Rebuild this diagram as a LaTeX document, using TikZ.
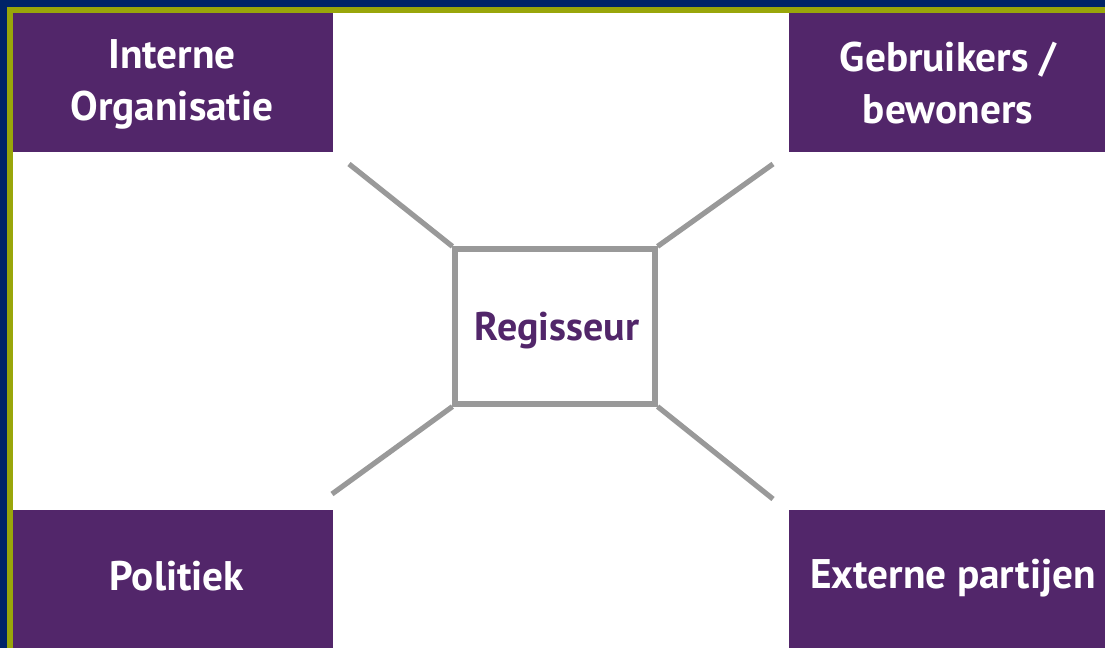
\documentclass[tikz,border=0pt]{standalone}
\usepackage{fontspec}
\setsansfont{PT Sans}
\usetikzlibrary{positioning}

\definecolor{paars}{RGB}{82,38,106}
\definecolor{navy}{RGB}{0,36,104}
\definecolor{limoen}{RGB}{153,166,10}
\definecolor{grijs}{RGB}{153,153,153}

\begin{document}
\begin{tikzpicture}[x=0.75pt, y=-0.75pt]

	\tikzstyle{blok}=[fill=paars, draw=none, inner sep=0, anchor=north west];
	\tikzstyle{node1}=[text=white, font=\sffamily\bfseries\fontsize{31}{39}\selectfont, align=center];
	\tikzstyle{node2}=[text=paars, font=\sffamily\bfseries\fontsize{30}{34}\selectfont];
	\tikzstyle{lijn}=[draw=grijs, line width=3.9pt];

	\useasboundingbox (0,0) rectangle (1105,648);

	% rand
	\fill [navy] (0,0) rectangle (1105,648);
	\fill [limoen] (7,7) rectangle (1105,648);
	\fill [white] (13,13) rectangle (1105,648);

	\node [blok, minimum width=240pt, minimum height=104.25pt] (intern) at (13,13) {};
	\node [blok, minimum width=237pt, minimum height=104.25pt] (gebruikers) at (789,13) {};
	\node [blok, minimum width=240pt, minimum height=103.5pt] (politiek) at (13,510) {};
	\node [blok, minimum width=237pt, minimum height=103.5pt] (extern) at (789,510) {};
	\node [node1] at (172,84) {Interne\\Organisatie};
	\node [node1] at (948,83) {Gebruikers /\\bewoners};
	\node [node1] at (177,576) {Politiek};
	\node [node1] at (953,578) {Externe partijen};

	\node [lijn, minimum width=150pt, minimum height=116.25pt, inner sep=0] (regisseur) at (555,326.5) {};
	\node [node2] at (557,331) {Regisseur};

	\coordinate (c1) at (349,164);
	\coordinate (c2) at (773,164);
	\coordinate (c3) at (332,494);
	\coordinate (c4) at (773,499);

	\draw [lijn] (regisseur.north west) -- (c1);
	\draw [lijn] (regisseur.north east) -- (c2);
	\draw [lijn] (regisseur.south west) -- (c3);
	\draw [lijn] (regisseur.south east) -- (c4);

\end{tikzpicture}
\end{document}
